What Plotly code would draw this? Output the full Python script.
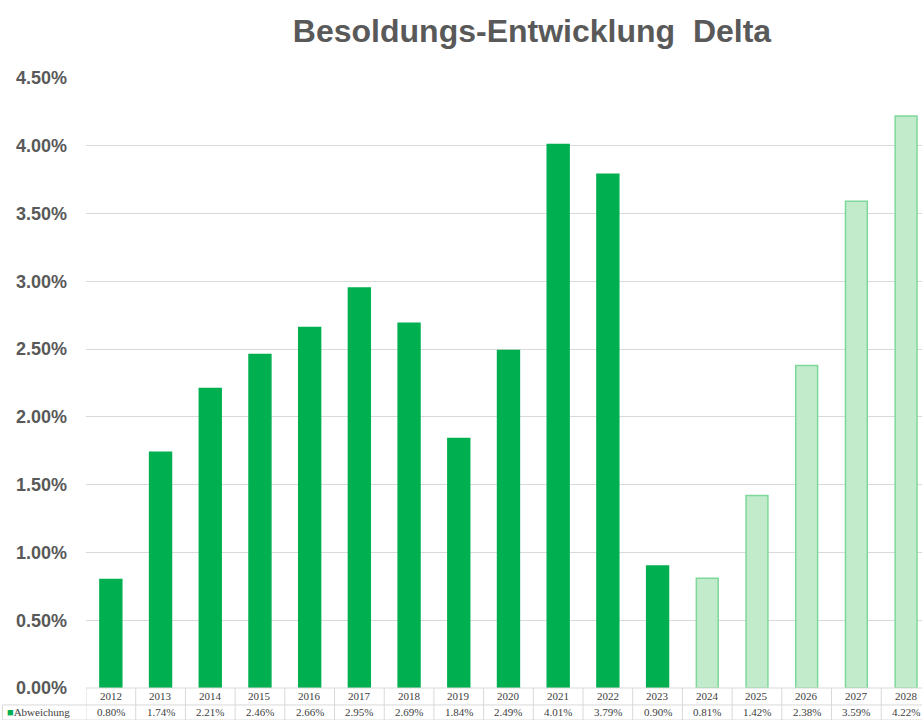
import plotly.graph_objects as go

# Jährliche Abweichung der Besoldung (Anteil, 0.008 = 0.80 %)
years = ["2012", "2013", "2014", "2015", "2016", "2017", "2018", "2019", "2020",
         "2021", "2022", "2023", "2024", "2025", "2026", "2027", "2028"]
deltas = [0.0080, 0.0174, 0.0221, 0.0246, 0.0266, 0.0295, 0.0269, 0.0184, 0.0249,
          0.0401, 0.0379, 0.0090, 0.0081, 0.0142, 0.0238, 0.0359, 0.0422]
n_actual = 12  # 2012-2023 sind Ist-Werte, danach Prognose
series_name = "Abweichung"
y_ticks = [0.0, 0.005, 0.01, 0.015, 0.02, 0.025, 0.03, 0.035, 0.04, 0.045]

GREEN = "#00B050"
LIGHT = "#C2EBCC"
LIGHT_LINE = "#7FD89B"
GRID = "#D9D9D9"
TXT = "#595959"
TABLE_FONT = dict(family="Liberation Serif", size=11, color="#404040")

idx = list(range(len(years)))
fill = [GREEN if i < n_actual else LIGHT for i in idx]
line = [GREEN if i < n_actual else LIGHT_LINE for i in idx]

fig = go.Figure()
fig.add_trace(go.Bar(
    x=idx, y=deltas, width=0.44,
    marker=dict(color=fill, line=dict(color=line, width=1.5)),
    name=series_name, showlegend=False,
))

shapes = []
annotations = []
# Datentabelle unter der Achse: Jahreszeile und Werte-Zeile
row_top, row_mid, row_bot = 0.0, -0.0278, -0.0525
for i, (yr, v) in enumerate(zip(years, deltas)):
    annotations.append(dict(x=i, y=(row_top + row_mid) / 2, xref="x", yref="paper",
                            xanchor="center", yanchor="middle",
                            text=yr, showarrow=False, font=TABLE_FONT))
    annotations.append(dict(x=i, y=(row_mid + row_bot) / 2, xref="x", yref="paper",
                            xanchor="center", yanchor="middle",
                            text=f"{v * 100:.2f}%", showarrow=False, font=TABLE_FONT))
for b in [i - 0.5 for i in idx] + [len(years) - 0.5]:
    shapes.append(dict(type="line", xref="x", yref="paper", x0=b, x1=b,
                       y0=row_bot, y1=row_top, line=dict(color=GRID, width=1)))
for yy in (row_top, row_mid, row_bot):
    shapes.append(dict(type="line", xref="x", yref="paper", x0=-0.5, x1=len(years),
                       y0=yy, y1=yy, line=dict(color=GRID, width=1)))
# Legendenzelle links neben der Werte-Zeile
shapes.append(dict(type="line", xref="paper", yref="paper", x0=-0.1, x1=0,
                   y0=row_mid, y1=row_mid, line=dict(color=GRID, width=1)))
shapes.append(dict(type="line", xref="paper", yref="paper", x0=-0.1, x1=0,
                   y0=row_bot, y1=row_bot, line=dict(color=GRID, width=1)))
shapes.append(dict(type="line", xref="paper", yref="paper", x0=-0.1, x1=-0.1,
                   y0=row_bot, y1=row_mid, line=dict(color=GRID, width=1)))
annotations.append(dict(x=-0.097, y=(row_mid + row_bot) / 2, xref="paper", yref="paper",
                        xanchor="left", yanchor="middle", showarrow=False,
                        text=f"<span style='color:{GREEN}'>■</span>{series_name}",
                        font=TABLE_FONT))

fig.update_layout(
    width=922, height=720,
    margin=dict(l=86, r=0, t=78, b=32),
    paper_bgcolor="white", plot_bgcolor="white",
    title=dict(text="<b>Besoldungs-Entwicklung  Delta</b>", x=0.577, xanchor="center",
               y=0.957, yanchor="middle",
               font=dict(family="Liberation Sans", size=32, color=TXT)),
    xaxis=dict(range=[-0.5, 16.32], showticklabels=False, showgrid=False,
               zeroline=False, showline=False, ticks=""),
    yaxis=dict(range=[0, 0.045], tickvals=y_ticks, tickformat=".2%",
               showgrid=True, gridcolor=GRID, gridwidth=1, zeroline=False,
               ticks="", ticklen=0, tickfont=dict(family="Liberation Sans", size=18,
                                                   color=TXT, weight="bold"),
               ticklabelstandoff=18),
    shapes=shapes, annotations=annotations,
)

fig.write_html("out.html")
